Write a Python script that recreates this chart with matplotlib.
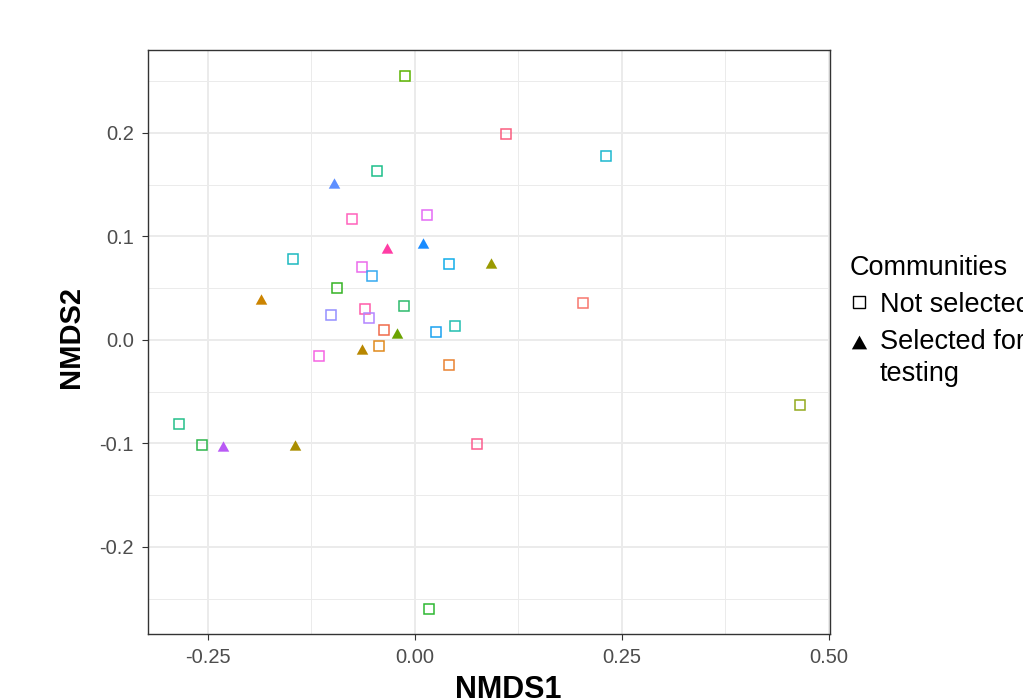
import matplotlib
matplotlib.use("Agg")
import matplotlib.pyplot as plt
from matplotlib.lines import Line2D
from matplotlib.legend_handler import HandlerLine2D
import numpy as np

plt.rcParams['font.family'] = ['Liberation Sans', 'DejaVu Sans']

# ---- data ----
nmds1 = [-0.0123, -0.0461, -0.0983, -0.0762, 0.0142, -0.0332, 0.0099, -0.1478,
         -0.0642, -0.0516, 0.0408, -0.0938, -0.1860, -0.0130, -0.1019, -0.0606,
         -0.0549, 0.0480, -0.0376, -0.0211, 0.0256, -0.0637, -0.0428, -0.1164,
         0.0416, -0.2856, -0.2572, -0.2322, -0.1445, 0.0754, 0.0171, 0.1104,
         0.2310, 0.0919, 0.2029, 0.4647]
nmds2 = [0.2550, 0.1628, 0.1516, 0.1168, 0.1210, 0.0888, 0.0936, 0.0787,
         0.0710, 0.0614, 0.0733, 0.0498, 0.0398, 0.0333, 0.0237, 0.0304,
         0.0212, 0.0137, 0.0099, 0.0067, 0.0076, -0.0088, -0.0059, -0.0156,
         -0.0237, -0.0813, -0.1019, -0.1029, -0.1010, -0.1006, -0.2600, 0.1995,
         0.1780, 0.0746, 0.0359, -0.0629]
selected = [False, False, True, False, False, True, True, False,
            False, False, False, False, True, False, False, False,
            False, False, False, True, False, True, False, False,
            False, False, False, True, True, False, False, False,
            False, True, False, False]
community_colors = ["#5BB300", "#1DBF8A", "#5E8FFF", "#FF62BC", "#E46BF5", "#FF3DA5", "#1A8CFF", "#1DB9C0",
                    "#EB6BEB", "#35A9F0", "#12AEEA", "#35B325", "#CC8400", "#2DBB6C", "#9590FF", "#FF5BAA",
                    "#B385FF", "#22BFB0", "#F06B4A", "#6BA300", "#1AA2F0", "#B88700", "#E08A1D", "#F564E3",
                    "#EA8331", "#25C08A", "#2DB54B", "#B95AF5", "#AA8E00", "#FC5E8F", "#2DB832", "#FA5E80",
                    "#1CB8D0", "#9A9A00", "#F8766D", "#93AA1E"]

x_ticks = [-0.25, 0.0, 0.25, 0.50]
x_tick_labels = ["-0.25", "0.00", "0.25", "0.50"]
y_ticks = [-0.2, -0.1, 0.0, 0.1, 0.2]
y_tick_labels = ["-0.2", "-0.1", "0.0", "0.1", "0.2"]
legend_labels = ["Not selected", "Selected for\ntesting"]


class FirstLineHandler(HandlerLine2D):
    """Align the legend key with the first line of a multi-line label."""
    def __init__(self, dy=0.0, **kw):
        super().__init__(**kw)
        self.dy = dy

    def create_artists(self, legend, orig_handle, xdescent, ydescent, width, height,
                       fontsize, trans):
        arts = super().create_artists(legend, orig_handle, xdescent, ydescent, width,
                                      height, fontsize, trans)
        for a in arts:
            a.set_ydata(np.asarray(a.get_ydata(), dtype=float) + self.dy)
        return arts


# ---- figure ----
W, H = 1023, 699
fig = plt.figure(figsize=(W / 100, H / 100), dpi=100)
ax = fig.add_axes([148 / W, 1 - 634 / H, (830 - 148) / W, (634 - 50) / H])

tri = [(0, 0.45), (-0.5, -0.45), (0.5, -0.45)]

x = np.array(nmds1)
y = np.array(nmds2)
sel = np.array(selected)
cols = np.array(community_colors)

for xi, yi, s, c in zip(x, y, sel, cols):
    if s:
        ax.plot(xi, yi, linestyle='none', marker=tri, markersize=8.3,
                color=c, markeredgewidth=0, zorder=3)
    else:
        ax.plot(xi, yi, linestyle='none', marker='s', markersize=6.6,
                markerfacecolor='none', markeredgecolor=c, markeredgewidth=1.1, zorder=3)

ax.set_xlim(-0.3225, 0.5015)
ax.set_ylim(-0.2841, 0.2802)

ax.set_xticks(x_ticks)
ax.set_xticklabels(x_tick_labels)
ax.set_yticks(y_ticks)
ax.set_yticklabels(y_tick_labels)
ax.set_xticks([-0.125, 0.125, 0.375], minor=True)
ax.set_yticks([-0.25, -0.15, -0.05, 0.05, 0.15, 0.25], minor=True)

ax.grid(which='major', color='#EBEBEB', linewidth=1.4, zorder=0)
ax.grid(which='minor', color='#EBEBEB', linewidth=0.7, zorder=0)
ax.set_axisbelow(True)

ax.tick_params(which='major', direction='out', length=4.4, width=0.8, color='#333333',
               labelsize=14.5, labelcolor='#4D4D4D', pad=5.8)
ax.tick_params(which='minor', length=0)
for sp in ax.spines.values():
    sp.set_color('#333333')
    sp.set_linewidth(1.0)

ax.set_xlabel("NMDS1", fontsize=22, fontweight='bold', va='baseline')
ax.xaxis.set_label_coords((508 - 148) / (830 - 148), (634 - 698) / (634 - 50))
ax.set_ylabel("NMDS2", fontsize=21, fontweight='bold', va='center')
ax.yaxis.set_label_coords((71 - 148) / (830 - 148), (634 - 336.5) / (634 - 50))

handles = [
    Line2D([], [], linestyle='none', marker='s', markersize=8.2, markerfacecolor='none',
           markeredgecolor='black', markeredgewidth=1.0),
    Line2D([], [], linestyle='none', marker=tri, markersize=11, color='black',
           markeredgewidth=0),
]
leg = fig.legend(handles, legend_labels, title="Communities", loc='upper left',
                 bbox_to_anchor=(850 / W, 1 - 255 / H), frameon=False, alignment='left',
                 borderpad=0, borderaxespad=0, handlelength=0.67, handletextpad=0.44,
                 labelspacing=0.4, fontsize=19.5, title_fontsize=19.5,
                 handler_map={handles[1]: FirstLineHandler(dy=11.9)})
for t in leg.get_texts():
    t.set_linespacing(1.3)

fig.savefig("out.png", dpi=100)
